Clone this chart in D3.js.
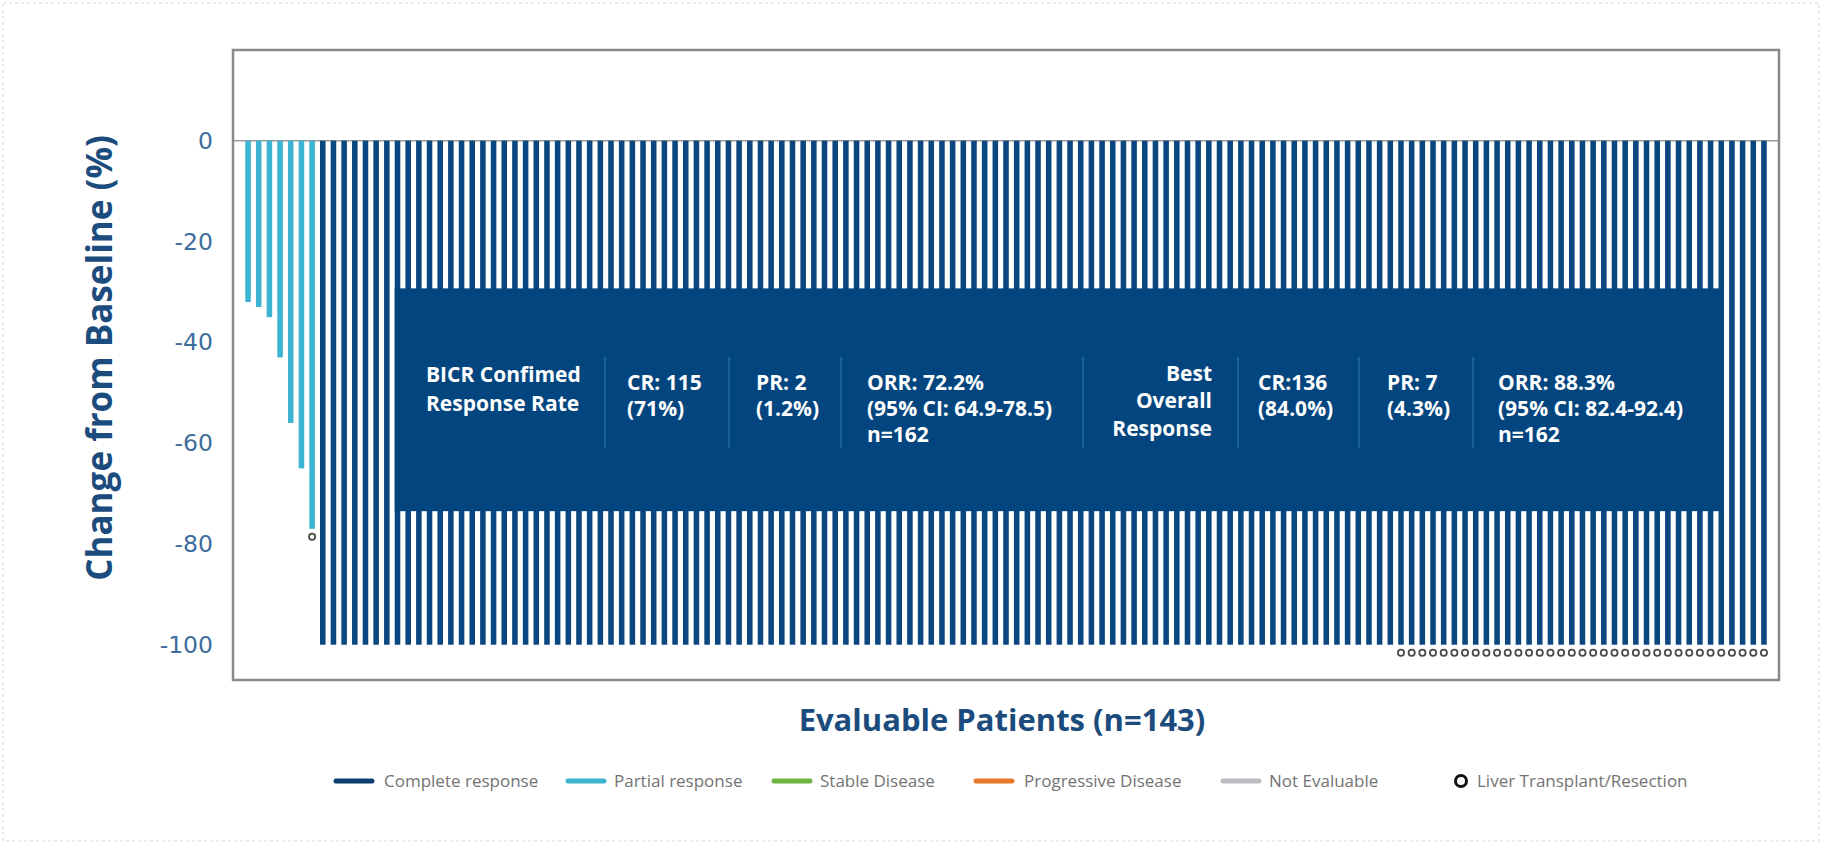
<!DOCTYPE html>
<html>
<head>
<meta charset="utf-8">
<script src="https://cdn.jsdelivr.net/npm/d3@7"></script>
<style>
  html, body { margin: 0; padding: 0; background: #ffffff; }
  svg { display: block; }
</style>
</head>
<body>
<svg id="chart" width="1822" height="844"></svg>
<script>
// ---- Data -------------------------------------------------------------
// Best percent change from baseline per evaluable patient, sorted.
const partialResponse = [-32, -33, -35, -43, -56, -65, -77];
const completeResponse = [
  -100, -100, -100, -100, -100, -100, -100, -100, -100, -100, -100, -100, -100, -100, -100, -100, -100,
  -100, -100, -100, -100, -100, -100, -100, -100, -100, -100, -100, -100, -100, -100, -100, -100, -100,
  -100, -100, -100, -100, -100, -100, -100, -100, -100, -100, -100, -100, -100, -100, -100, -100, -100,
  -100, -100, -100, -100, -100, -100, -100, -100, -100, -100, -100, -100, -100, -100, -100, -100, -100,
  -100, -100, -100, -100, -100, -100, -100, -100, -100, -100, -100, -100, -100, -100, -100, -100, -100,
  -100, -100, -100, -100, -100, -100, -100, -100, -100, -100, -100, -100, -100, -100, -100, -100, -100,
  -100, -100, -100, -100, -100, -100, -100, -100, -100, -100, -100, -100, -100, -100, -100, -100, -100,
  -100, -100, -100, -100, -100, -100, -100, -100, -100, -100, -100, -100, -100, -100, -100, -100, -100
];
// Patients (0-based position in the waterfall) who went on to liver transplant / resection.
const transplantPatients = [
  6,
  108, 109, 110, 111, 112, 113, 114, 115, 116, 117, 118, 119, 120, 121, 122, 123, 124,
  125, 126, 127, 128, 129, 130, 131, 132, 133, 134, 135, 136, 137, 138, 139, 140, 141, 142
];
const yTicks = [0, -20, -40, -60, -80, -100];
const yTitle = "Change from Baseline (%)";
const xTitle = "Evaluable Patients (n=143)";

const legendItems = [
  { label: "Complete response", key: "CR" },
  { label: "Partial response", key: "PR" },
  { label: "Stable Disease", key: "SD" },
  { label: "Progressive Disease", key: "PD" },
  { label: "Not Evaluable", key: "NE" },
  { label: "Liver Transplant/Resection", key: "LT" }
];

// Summary table shown over the bars.
const bicrLabel = ["BICR Confimed", "Response Rate"];
const bicrStats = [
  ["CR: 115", "(71%)"],
  ["PR: 2", "(1.2%)"],
  ["ORR: 72.2%", "(95% CI: 64.9-78.5)", "n=162"]
];
const bestLabel = ["Best", "Overall", "Response"];
const bestStats = [
  ["CR:136", "(84.0%)"],
  ["PR: 7", "(4.3%)"],
  ["ORR: 88.3%", "(95% CI: 82.4-92.4)", "n=162"]
];
// Table band spans these patient positions and this value range.
const tableSpan = [14, 138.5];
const tableRange = [-29.3, -73.5];

// ---- Styling ----------------------------------------------------------
const colors = {
  CR: "#0a4680",
  PR: "#3db5d0",
  SD: "#6db33f",
  PD: "#e8782b",
  NE: "#b9bcc0",
  box: "#03467f",
  rule: "#1f6aa6",
  frame: "#8a8a8a",
  tick: "#3c6d9c",
  title: "#1b4c7d",
  legend: "#737373"
};

const rows = [
  ...partialResponse.map(v => ({ value: v, type: "PR" })),
  ...completeResponse.map(v => ({ value: v, type: "CR" }))
];
rows.forEach((d, i) => { d.id = i; d.transplant = transplantPatients.includes(i); });

const svg = d3.select("#chart");
const frame = { left: 233, right: 1779, top: 50, bottom: 680 };

const x = d3.scaleBand()
  .domain(rows.map(d => d.id))
  .range([242.5, 1769.5])
  .paddingInner(0.48)
  .paddingOuter(0.26);

const y = d3.scaleLinear()
  .domain([18, -107])
  .range([frame.top, frame.bottom]);

// faint outer page border
svg.append("rect")
  .attr("x", 3).attr("y", 3).attr("width", 1816).attr("height", 838)
  .attr("fill", "none").attr("stroke", "#ececec").attr("stroke-width", 2)
  .attr("stroke-dasharray", "3,3");

// zero reference line
svg.append("line")
  .attr("x1", frame.left).attr("x2", frame.right)
  .attr("y1", y(0)).attr("y2", y(0))
  .attr("stroke", "#9a9a9a").attr("stroke-width", 1.5);

// bars
svg.append("g").selectAll("rect")
  .data(rows)
  .join("rect")
  .attr("x", d => x(d.id))
  .attr("width", x.bandwidth())
  .attr("y", y(0))
  .attr("height", d => y(d.value) - y(0))
  .attr("fill", d => colors[d.type]);

// transplant / resection markers, just below each bar tip
svg.append("g").selectAll("circle")
  .data(rows.filter(d => d.transplant))
  .join("circle")
  .attr("cx", d => x(d.id) + x.bandwidth() / 2)
  .attr("cy", d => y(d.value) + 8)
  .attr("r", 3.1)
  .attr("fill", "#ffffff")
  .attr("stroke", "#4a4a4a")
  .attr("stroke-width", 1.8);

// summary table band
const boxX0 = x(Math.floor(tableSpan[0]));
const boxX1 = x(Math.floor(tableSpan[1])) + x.bandwidth() / 2;
const boxY0 = y(tableRange[0]);
const boxY1 = y(tableRange[1]);
svg.append("rect")
  .attr("x", boxX0).attr("y", boxY0)
  .attr("width", boxX1 - boxX0).attr("height", boxY1 - boxY0)
  .attr("fill", colors.box);

const table = svg.append("g")
  .attr("fill", "#ffffff")
  .style("font-family", "'Open Sans', 'Noto Sans', sans-serif")
  .style("font-weight", 700)
  .style("font-size", "21px");

function block(lines, xPos, firstBaseline, step, anchor) {
  const t = table.append("text")
    .attr("text-anchor", anchor || "start");
  lines.forEach((s, i) => {
    t.append("tspan").attr("x", xPos).attr("y", firstBaseline + i * step).text(s);
  });
}

block(bicrLabel, 426, 381.5, 29);
block(bicrStats[0], 627, 389.5, 26);
block(bicrStats[1], 756, 389.5, 26);
block(bicrStats[2], 867, 389.5, 26);
block(bestLabel, 1212, 380.5, 27.5, "end");
block(bestStats[0], 1258, 389.5, 26);
block(bestStats[1], 1387, 389.5, 26);
block(bestStats[2], 1498, 389.5, 26);

// column dividers
const dividers = [605, 729, 841, 1083, 1238, 1359, 1473];
svg.append("g").selectAll("line")
  .data(dividers)
  .join("line")
  .attr("x1", d => d).attr("x2", d => d)
  .attr("y1", 357).attr("y2", 448)
  .attr("stroke", colors.rule).attr("stroke-width", 1.6);

// plot frame
svg.append("rect")
  .attr("x", frame.left).attr("y", frame.top)
  .attr("width", frame.right - frame.left).attr("height", frame.bottom - frame.top)
  .attr("fill", "none").attr("stroke", colors.frame).attr("stroke-width", 2.5);

// y axis labels (plain hyphen for negatives)
const yAxis = d3.axisLeft(y).tickValues(yTicks).tickSize(0).tickPadding(20)
  .tickFormat(d => String(d));
const yg = svg.append("g")
  .attr("transform", `translate(${frame.left},0)`)
  .call(yAxis);
yg.select(".domain").remove();
yg.selectAll("text")
  .attr("fill", colors.tick)
  .style("font-family", "'DejaVu Sans', sans-serif")
  .style("font-size", "23.5px");

// axis titles
svg.append("text")
  .attr("transform", "translate(112,358) rotate(-90)")
  .attr("text-anchor", "middle")
  .attr("fill", colors.title)
  .style("font-family", "'Open Sans', sans-serif")
  .style("font-weight", 700)
  .style("font-size", "35px")
  .text(yTitle);

svg.append("text")
  .attr("x", 1002).attr("y", 731)
  .attr("text-anchor", "middle")
  .attr("fill", colors.title)
  .style("font-family", "'Open Sans', sans-serif")
  .style("font-weight", 700)
  .style("font-size", "31px")
  .text(xTitle);

// legend
const swatchX = [336, 568, 774, 976, 1223];
const labelX = [384, 614, 820, 1024, 1269, 1477];
const legendY = 781;
const lg = svg.append("g")
  .style("font-family", "'Open Sans', sans-serif")
  .style("font-size", "17px");
legendItems.forEach((d, i) => {
  if (d.key === "LT") {
    lg.append("circle").attr("cx", 1461).attr("cy", legendY).attr("r", 5.5)
      .attr("fill", "#ffffff").attr("stroke", "#111111").attr("stroke-width", 3);
  } else {
    lg.append("line")
      .attr("x1", swatchX[i]).attr("x2", swatchX[i] + 36)
      .attr("y1", legendY).attr("y2", legendY)
      .attr("stroke", d.key === "CR" ? "#0d3e72" : colors[d.key])
      .attr("stroke-width", 5).attr("stroke-linecap", "round");
  }
  lg.append("text").attr("x", labelX[i]).attr("y", legendY + 6)
    .attr("fill", colors.legend).text(d.label);
});
</script>
</body>
</html>
